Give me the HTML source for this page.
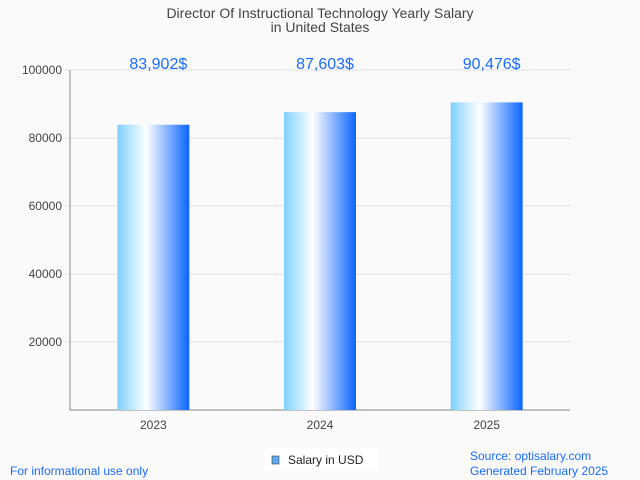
<!DOCTYPE html>
<html><head><meta charset="utf-8"><style>
body{margin:0;background:#fafafa;}
svg{display:block;font-family:"Liberation Sans",sans-serif;}
</style></head><body>
<svg id="c" width="640" height="480">
<defs><linearGradient id="g" x1="0" x2="1" y1="0" y2="0">
<stop offset="0" stop-color="#7fd0ff"/><stop offset="0.4" stop-color="#ffffff"/><stop offset="1" stop-color="#0a64ff"/>
</linearGradient></defs>
<rect width="640" height="480" fill="#fafafa"/>
<text x="320" y="18" text-anchor="middle" font-size="14" fill="#444">Director Of Instructional Technology Yearly Salary</text>
<text x="320" y="32" text-anchor="middle" font-size="14" fill="#444">in United States</text>
<g id="grid"></g><g id="bars"></g>
<rect x="264" y="448" width="114" height="23" fill="#fff"/>
<rect x="272" y="456" width="7" height="8" fill="#5fa8f0" stroke="#444" stroke-width="0.6"/>
<text x="288" y="464" font-size="12" fill="#222">Salary in USD</text>
<text x="10" y="475" font-size="12" fill="#1a6cff">For informational use only</text>
<text x="470" y="460" font-size="12" fill="#1a6cff">Source: optisalary.com</text>
<text x="470" y="475" font-size="12" fill="#1a6cff">Generated February 2025</text>
</svg>
<script>
const categories=["2023","2024","2025"];
const salaries=[83902,87603,90476];
const valueLabels=["83,902$","87,603$","90,476$"];
const yTicks=[20000,40000,60000,80000,100000];
const ns="http://www.w3.org/2000/svg";
const L=70,R=570,T=70,B=410,MAX=100000;
const y=v=>B-(v/MAX)*(B-T);
const band=(R-L)/categories.length;
const x=i=>L+band*(i+0.5);
const bw=72;
function mk(t,a,p){const e=document.createElementNS(ns,t);for(const k in a)e.setAttribute(k,a[k]);p.appendChild(e);return e;}
const grid=document.getElementById('grid'),bars=document.getElementById('bars');
yTicks.forEach(v=>{
 const l=mk('line',{x1:L-5,x2:R,y1:y(v),y2:y(v),stroke:'#e0e0e0'},grid);
 
 
 const t=mk('text',{x:L-8,y:y(v)+4,'text-anchor':'end','font-size':12,fill:'#444'},grid);
 t.textContent=v;
 
 
});
const ax=mk('path',{d:`M${L} ${T}V${B}H${R}`,fill:'none',stroke:'#888'},grid);


categories.forEach((c,i)=>{
 const r=mk('rect',{x:x(i)-bw/2,y:y(salaries[i]),width:bw,height:B-y(salaries[i]),fill:'url(#g)'},bars);
 
 
 const t=mk('text',{x:x(i)+5,y:T-1,'text-anchor':'middle','font-size':16,fill:'#1a6cff'},bars);
 t.textContent=valueLabels[i];
 
 
 const xl=mk('text',{x:x(i),y:B+19,'text-anchor':'middle','font-size':12,fill:'#444'},bars);
 xl.textContent=c;
 
 
});
</script>
</body></html>
